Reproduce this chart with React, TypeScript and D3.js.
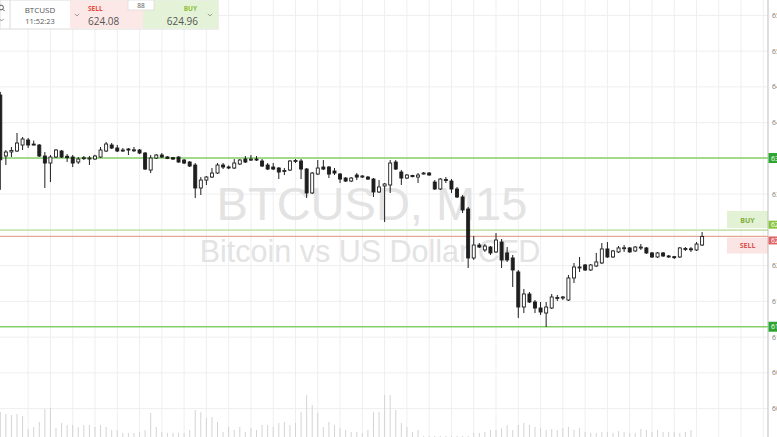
import React from "react";
import * as d3 from "d3";

// ---- Data (BTCUSD, 15-minute candles) ----
const opens = [
  643.86, 635.33, 635.9, 636.03, 636.87, 637.57, 637.0, 636.87, 635.33, 634.35,
  635.19, 636.03, 635.3, 635.19, 634.49, 635.0, 635.0, 634.91, 635.19, 636.03,
  636.87, 636.45, 636.1, 636.31, 636.17, 636.17, 635.75, 633.37, 635.05, 635.47,
  635.2, 635.1, 635.19, 634.77, 634.49, 634.07, 630.86, 631.97, 632.39, 632.95,
  634.07, 633.8, 633.65, 634.21, 634.91, 634.8, 634.91, 634.63, 634.07, 633.79,
  633.65, 633.3, 633.37, 634.63, 634.63, 633.51, 630.16, 632.81, 633.79, 633.79,
  633.23, 632.81, 632.25, 631.83, 632.67, 632.45, 632.39, 632.11, 630.3, 631.14,
  631.28, 634.49, 633.09, 632.25, 632.6, 632.39, 632.81, 632.95, 631.69, 630.72,
  632.05, 631.83, 630.72, 629.6, 627.92, 621.07, 622.88, 622.19, 622.6, 621.91,
  623.3, 621.77, 621.07, 619.11, 614.21, 616.03, 614.91, 614.07, 613.37, 614.07,
  615.5, 615.47, 615.19, 618.27, 619.75, 620.09, 619.39, 619.95, 620.37, 622.33,
  621.21, 621.91, 622.45, 622.47, 622.05, 622.55, 622.47, 621.77, 621.21, 621.77,
  621.35, 621.25, 621.21, 622.35, 622.35, 622.19, 622.88,
];
const highs = [
  644.3, 636.17, 636.59, 638.55, 637.99, 637.85, 637.5, 637.0, 635.89, 635.47,
  636.31, 636.17, 635.6, 635.47, 635.19, 635.33, 635.33, 635.5, 636.59, 637.3,
  637.15, 636.87, 636.45, 636.45, 636.59, 636.31, 635.89, 635.47, 635.6, 635.75,
  635.3, 635.2, 635.3, 634.9, 634.63, 634.35, 632.39, 632.53, 633.65, 634.35,
  634.35, 634.0, 634.91, 634.91, 635.33, 635.47, 635.33, 634.91, 634.35, 634.35,
  633.79, 633.65, 634.77, 634.91, 634.91, 633.65, 633.09, 634.77, 634.77, 633.93,
  633.65, 632.95, 632.39, 632.39, 632.95, 632.67, 632.53, 632.25, 631.97, 631.55,
  634.77, 634.77, 633.37, 632.81, 632.7, 632.95, 633.09, 633.09, 631.97, 632.25,
  632.39, 632.11, 631.0, 629.88, 628.2, 624.14, 623.16, 623.02, 622.74, 624.56,
  623.72, 622.6, 621.49, 619.39, 616.73, 616.31, 615.19, 614.91, 614.91, 616.03,
  615.89, 615.75, 618.69, 620.37, 621.21, 620.23, 620.23, 621.77, 623.16, 623.3,
  622.19, 622.74, 622.88, 622.6, 622.74, 623.02, 622.6, 621.91, 621.91, 621.91,
  621.49, 621.35, 622.6, 622.6, 622.6, 623.3, 624.7,
];
const lows = [
  630.6, 634.07, 635.19, 635.89, 636.17, 636.45, 636.85, 635.19, 630.86, 631.69,
  635.05, 635.05, 634.5, 633.79, 634.21, 634.77, 634.07, 634.8, 635.05, 635.89,
  636.31, 635.89, 635.9, 635.47, 635.9, 635.6, 633.37, 632.95, 634.91, 635.05,
  634.9, 634.8, 634.4, 634.2, 633.79, 629.46, 629.88, 631.28, 632.25, 632.81,
  633.51, 633.5, 633.51, 634.07, 634.35, 634.63, 634.63, 633.79, 633.37, 633.37,
  632.11, 632.67, 633.23, 634.35, 632.11, 629.46, 630.02, 632.67, 633.37, 632.25,
  632.67, 631.55, 631.69, 631.69, 631.97, 632.25, 631.97, 629.6, 630.16, 626.1,
  630.16, 633.37, 631.28, 632.11, 632.35, 631.55, 632.75, 632.6, 630.58, 630.58,
  631.55, 630.16, 629.46, 627.36, 619.67, 620.79, 622.47, 621.91, 621.49, 621.77,
  619.67, 620.51, 617.01, 612.68, 613.37, 614.77, 613.37, 613.09, 611.42, 613.93,
  615.05, 615.19, 615.05, 617.57, 619.11, 619.25, 619.25, 619.81, 620.23, 621.07,
  621.07, 621.77, 621.91, 621.8, 621.91, 622.19, 621.63, 621.07, 621.07, 621.21,
  621.07, 620.93, 621.07, 622.05, 621.91, 622.05, 622.74,
];
const closes = [
  634.8, 635.89, 636.1, 637.15, 637.71, 636.87, 636.9, 635.33, 634.35, 635.19,
  636.17, 635.19, 635.1, 634.35, 634.91, 635.1, 635.05, 635.33, 636.17, 637.01,
  636.45, 636.03, 636.17, 636.17, 636.2, 635.75, 633.51, 635.05, 635.47, 635.19,
  635.0, 634.9, 634.49, 634.35, 633.93, 630.86, 631.97, 632.39, 632.95, 634.07,
  633.79, 633.7, 634.35, 634.77, 634.49, 634.9, 634.77, 633.93, 633.51, 633.51,
  633.09, 633.3, 634.63, 634.7, 633.51, 630.16, 632.95, 633.65, 633.51, 632.81,
  632.95, 632.11, 631.83, 632.25, 632.39, 632.53, 632.11, 630.3, 631.0, 631.42,
  634.35, 633.51, 632.25, 632.67, 632.45, 632.67, 632.95, 632.67, 630.72, 632.11,
  632.0, 630.72, 629.6, 627.78, 621.07, 622.88, 622.6, 622.74, 621.77, 623.58,
  620.79, 620.79, 619.39, 614.21, 616.03, 614.91, 614.07, 613.51, 614.21, 615.61,
  615.55, 615.61, 618.27, 619.81, 619.81, 619.39, 620.09, 620.51, 622.33, 621.21,
  622.05, 622.47, 622.5, 621.91, 622.6, 622.6, 621.77, 621.21, 621.77, 621.35,
  621.3, 621.2, 622.47, 622.4, 622.33, 623.02, 624.08,
];
const volumes = [
  25, 23, 22, 23, 21, 8, 10, 15, 28, 29,
  9, 14, 12, 12, 10, 12, 12, 10, 12, 10,
  7, 7, 4, 4, 4, 5, 7, 24, 10, 5,
  4, 4, 4, 4, 7, 27, 25, 19, 20, 15,
  5, 10, 7, 10, 5, 9, 7, 12, 12, 10,
  14, 15, 12, 14, 25, 42, 32, 24, 10, 15,
  12, 9, 7, 5, 5, 4, 7, 25, 25, 42,
  42, 27, 14, 10, 5, 7, 1, 1, 1, 1,
  1, 1, 1, 1, 1, 4, 4, 5, 7, 7,
  9, 12, 7, 12, 14, 12, 10, 9, 7, 8,
  7, 9, 10, 7, 9, 5, 4, 4, 5, 5,
  4, 6, 5, 4, 4, 8, 7, 5, 7, 5,
  5, 5, 4, 5, 7, 0, 0,
];
const priceTicks = [600, 605, 610, 615, 620, 625, 630, 635, 640, 645, 650, 655];
const resistanceLevel = 635.05;
const supportLevel = 611.45;
const buyPrice = 624.96;
const sellPrice = 624.08;
const spreadText = "88";
const symbolText = "BTCUSD";
const clockText = "11:52:23";
const watermarkTitle = "BTCUSD, M15";
const watermarkSub = "Bitcoin vs US Dollar CFD";

const W = 777;
const H = 437;
const AXIS_X = 768;

export default function App() {
  const n = opens.length;
  const x = d3.scaleLinear().domain([0, n - 1]).range([0.3, 702.1]);
  const y = d3.scaleLinear().domain([600, 655]).range([408.6, 15.4]);
  const vy = d3.scaleLinear().domain([0, 100]).range([H, H - 100]);
  const gridIdx = d3.range(5, 140, 4);
  const fmt = d3.format(".2f");
  const ui = "'Open Sans', 'Noto Sans', sans-serif";
  const bw = 3;

  // tick labels hidden behind the coloured price labels on the axis
  const labelled = [resistanceLevel, buyPrice, sellPrice];
  const visibleTicks = priceTicks.filter(
    (p) => !labelled.some((l) => Math.abs(y(p) - y(l)) < 8)
  );

  const chevron = (cx: number, cy: number) =>
    `M${cx - 2.2},${cy - 1.2} L${cx},${cy + 1} L${cx + 2.2},${cy - 1.2}`;

  return (
    <svg
      width={W}
      height={H}
      style={{ position: "absolute", left: 0, top: 0, background: "#fff" }}
      fontFamily={ui}
    >
      <rect x={0} y={0} width={W} height={H} fill="#ffffff" />
      {/* grid */}
      <g stroke="#efefef" strokeWidth={1}>
        {priceTicks.map((p) => (
          <line key={"h" + p} x1={0} x2={AXIS_X} y1={y(p)} y2={y(p)} />
        ))}
        {gridIdx.map((i) => (
          <line key={"v" + i} x1={x(i)} x2={x(i)} y1={0} y2={H} />
        ))}
      </g>

      {/* watermark */}
      <g fill="#e3e3e3" fontFamily="'Liberation Sans', Arial, sans-serif" textAnchor="middle">
        <text x={372} y={220} fontSize={47}>{watermarkTitle}</text>
        <text x={370} y={262} fontSize={30.5}>{watermarkSub}</text>
      </g>

      {/* volume */}
      <g stroke="#d4d4d4" strokeWidth={1}>
        {volumes.map((v, i) =>
          v > 0 ? (
            <line key={"vol" + i} x1={x(i)} x2={x(i)} y1={H} y2={vy(v)} />
          ) : null
        )}
      </g>

      {/* level lines */}
      <line x1={0} x2={AXIS_X} y1={y(resistanceLevel)} y2={y(resistanceLevel)} stroke="#86d067" strokeWidth={1.3} />
      <line x1={0} x2={AXIS_X} y1={y(supportLevel)} y2={y(supportLevel)} stroke="#86d067" strokeWidth={1.3} />
      <line x1={0} x2={AXIS_X} y1={y(buyPrice)} y2={y(buyPrice)} stroke="#b9de95" strokeWidth={1.2} />
      <line x1={0} x2={AXIS_X} y1={y(sellPrice)} y2={y(sellPrice)} stroke="#e2a898" strokeWidth={1.2} />

      {/* candles */}
      <g>
        {opens.map((o, i) => {
          const c = closes[i];
          const up = c >= o;
          const top = y(Math.max(o, c));
          const bot = y(Math.min(o, c));
          const hgt = Math.max(bot - top, 1);
          const cx = x(i);
          return (
            <g key={"c" + i}>
              <line x1={cx} x2={cx} y1={y(highs[i])} y2={y(lows[i])} stroke="#1e1e1e" strokeWidth={1} />
              <rect
                x={cx - bw / 2}
                y={top}
                width={bw}
                height={hgt}
                fill={up ? "#ffffff" : "#1e1e1e"}
                stroke="#1e1e1e"
                strokeWidth={0.9}
              />
            </g>
          );
        })}
      </g>

      {/* in-chart BUY / SELL boxes */}
      <rect x={727} y={211} width={41} height={17} fill="#e3f1d5" />
      <text x={747.5} y={222.5} fontSize={7} fontWeight={700} fill="#7cae3a" textAnchor="middle">BUY</text>
      <rect x={727} y={237.5} width={41} height={16} fill="#fbe4e4" />
      <text x={747.5} y={248} fontSize={7} fontWeight={700} fill="#d9534f" textAnchor="middle">SELL</text>

      {/* right axis */}
      <line x1={AXIS_X} x2={AXIS_X} y1={0} y2={H} stroke="#bdbdbd" strokeWidth={1} />
      <g fontSize={7} fill="#7a7a7a">
        {visibleTicks.map((p) => (
          <text key={"t" + p} x={772} y={y(p) + 2.5}>{fmt(p)}</text>
        ))}
      </g>
      {/* axis price labels */}
      <rect x={AXIS_X + 0.5} y={y(resistanceLevel) - 5} width={10} height={10} fill="#2fa52f" />
      <text x={771} y={y(resistanceLevel) + 2.5} fontSize={7} fill="#fff">{fmt(resistanceLevel)}</text>
      <rect x={AXIS_X + 0.5} y={y(supportLevel) - 5} width={10} height={10} fill="#2fa52f" />
      <text x={771} y={y(supportLevel) + 2.5} fontSize={7} fill="#fff">{fmt(supportLevel)}</text>
      <rect x={AXIS_X + 0.5} y={y(buyPrice) - 9.5} width={10} height={8} fill="#8cc43c" />
      <text x={771} y={y(buyPrice) - 3} fontSize={6.5} fill="#fff">{fmt(buyPrice)}</text>
      <rect x={AXIS_X + 0.5} y={y(sellPrice) + 0} width={10} height={8} fill="#e06464" />
      <text x={771} y={y(sellPrice) + 6.5} fontSize={6.5} fill="#fff">{fmt(sellPrice)}</text>

      {/* trading widget */}
      <g>
        <rect x={0} y={0} width={218} height={29} fill="#ffffff" stroke="#dcdcdc" strokeWidth={1} />
        <circle cx={1} cy={7.5} r={2.4} fill="none" stroke="#555" strokeWidth={1} />
        <line x1={2.8} y1={9.3} x2={4.6} y2={11.1} stroke="#555" strokeWidth={1} />
        <path d={chevron(1.5, 20)} fill="none" stroke="#777" strokeWidth={0.8} />
        <line x1={10} x2={10} y1={0} y2={29} stroke="#dcdcdc" />
        <text x={40} y={12.5} fontSize={8} fill="#555" textAnchor="middle">{symbolText}</text>
        <text x={40} y={24} fontSize={7.5} fill="#555" textAnchor="middle">{clockText}</text>
        <rect x={70} y={0.5} width={73} height={28} fill="#fde8e8" />
        <path d={chevron(77, 15)} fill="none" stroke="#888" strokeWidth={0.8} />
        <text x={88} y={11} fontSize={6.5} fontWeight={700} fill="#e5473d">SELL</text>
        <text x={88} y={24.5} fontSize={10} fill="#555">{fmt(sellPrice)}</text>
        <rect x={143} y={0.5} width={75} height={28} fill="#e4f3d7" />
        <text x={197} y={11} fontSize={6.5} fontWeight={700} fill="#8cbf3a" textAnchor="end">BUY</text>
        <text x={198} y={24.5} fontSize={10} fill="#555" textAnchor="end">{fmt(buyPrice)}</text>
        <path d={chevron(210, 15)} fill="none" stroke="#888" strokeWidth={0.8} />
        <rect x={128} y={0} width={26} height={10} fill="#ffffff" stroke="#dcdcdc" strokeWidth={0.8} />
        <text x={141} y={8} fontSize={6.5} fill="#555" textAnchor="middle">{spreadText}</text>
      </g>
    </svg>
  );
}
